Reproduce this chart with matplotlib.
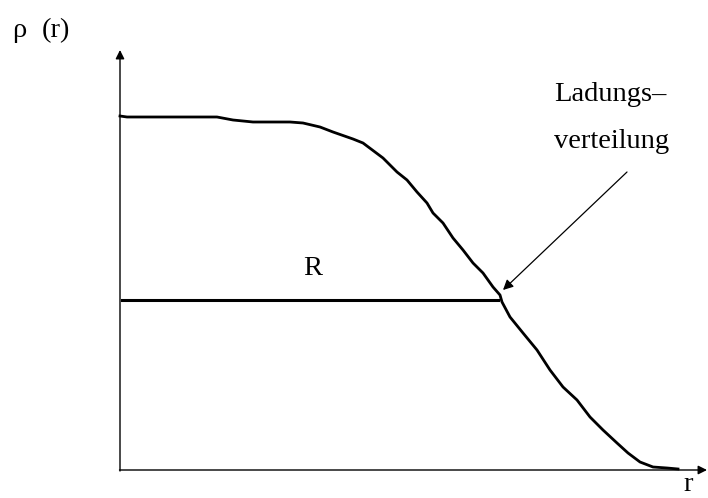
import matplotlib.pyplot as plt

# Kurve der Ladungsverteilung (Bildkoordinaten, y nach unten)
r_vals = [120, 127, 217, 233, 253, 290, 303, 320, 333, 353, 363, 383, 397, 407,
          417, 427, 433, 443, 453, 463, 473, 483, 493, 500, 502, 510, 523, 537,
          550, 563, 577, 590, 603, 617, 628, 640, 653, 667, 678]
rho_vals = [116, 117, 117, 120, 122, 122, 123, 127, 132, 139, 143, 158, 172, 180,
            192, 203, 213, 223, 238, 250, 263, 273, 287, 295, 302, 317, 333, 350,
            370, 387, 400, 417, 430, 443, 453, 462, 467, 468, 469]

# Halbwertsradius R
R_start = 122
R_end = 498
R_level = 300

plt.rcParams['font.family'] = ['Liberation Serif', 'DejaVu Serif']

fig = plt.figure(figsize=(7.08, 4.98), dpi=100)
ax = fig.add_axes([0, 0, 1, 1])
ax.set_xlim(0, 708)
ax.set_ylim(498, 0)
ax.axis("off")

# Achsen mit Pfeilen
ax.annotate("", xy=(120, 50), xytext=(120, 471),
            arrowprops=dict(arrowstyle="-|>", lw=1, color="black", mutation_scale=13,
                            shrinkA=0, shrinkB=0))
ax.annotate("", xy=(707, 470), xytext=(119.5, 470),
            arrowprops=dict(arrowstyle="-|>", lw=1, color="black", mutation_scale=13,
                            shrinkA=0, shrinkB=0))

ax.plot(r_vals, rho_vals, color="black", lw=2, solid_joinstyle="round")
ax.plot([R_start, R_end], [R_level, R_level], color="black", lw=2.2)

ax.annotate("", xy=(503, 290), xytext=(627, 172),
            arrowprops=dict(arrowstyle="-|>", lw=0.9, color="black", mutation_scale=15,
                            shrinkA=0, shrinkB=0))

fs = 20.5
ax.text(313, 275, "R", fontsize=fs, ha="center", va="baseline")
ax.text(610, 101, "Ladungs–", fontsize=fs, ha="center", va="baseline")
ax.text(612, 148, "verteilung", fontsize=fs, ha="center", va="baseline")
ax.text(12, 37, "ρ", fontsize=fs, ha="left", va="baseline")
ax.text(42, 37, "(r)", fontsize=fs, ha="left", va="baseline")
ax.text(688, 497, "r", fontsize=fs, ha="center", va="bottom")

fig.savefig("out.png", dpi=100)
